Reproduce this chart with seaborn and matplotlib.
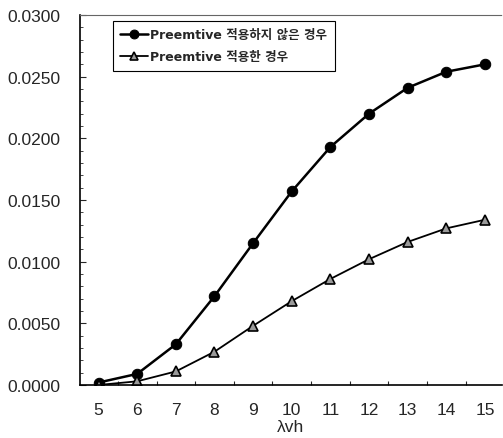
import matplotlib.pyplot as plt
import seaborn as sns
import pandas as pd
import numpy as np
from matplotlib.ticker import FixedLocator, MultipleLocator, FormatStrFormatter

lam = [5, 6, 7, 8, 9, 10, 11, 12, 13, 14, 15]
no_preempt = [0.0002, 0.0009, 0.0033, 0.0072, 0.0115, 0.0157, 0.0193, 0.0220, 0.0241, 0.0254, 0.0260]
with_preempt = [0.0000, 0.0003, 0.0011, 0.0027, 0.0048, 0.0068, 0.0086, 0.0102, 0.0116, 0.0127, 0.0134]
labels = ["Preemtive 적용하지 않은 경우", "Preemtive 적용한 경우"]

df = pd.DataFrame({"lam": lam, "a": no_preempt, "b": with_preempt})

sns.set_style("white")
plt.rcParams["font.family"] = ["Liberation Sans", "Noto Sans CJK KR", "DejaVu Sans"]

fig = plt.figure(figsize=(5.03, 4.39), dpi=100)
ax = fig.add_axes([80 / 503, 53 / 439, 1 - 80 / 503 - 0.002, (386 - 16) / 439])

sns.lineplot(x="lam", y="a", data=df, ax=ax, color="black", linewidth=1.8,
             marker="o", markersize=7.5, markeredgecolor="black", label=labels[0])
sns.lineplot(x="lam", y="b", data=df, ax=ax, color="black", linewidth=1.3,
             marker="^", markersize=7, markerfacecolor="#9a9a9a",
             markeredgecolor="black", markeredgewidth=1.2, label=labels[1])

ax.set_xlim(4.52, 15.44)
ax.set_ylim(0, 0.03)
ax.xaxis.set_major_locator(FixedLocator(lam))
ax.xaxis.set_minor_locator(FixedLocator(np.array(lam[:-1]) + 0.5))
ax.yaxis.set_major_locator(MultipleLocator(0.005))
ax.yaxis.set_minor_locator(MultipleLocator(0.001))
ax.yaxis.set_major_formatter(FormatStrFormatter("%.4f"))

ax.tick_params(axis="x", which="major", length=0, labelsize=12.5, pad=12)
ax.tick_params(axis="x", which="minor", direction="in", length=3, width=0.8)
ax.tick_params(axis="y", which="major", direction="in", length=4, width=0.8,
               labelsize=12.5, pad=14)
ax.tick_params(axis="y", which="minor", direction="in", length=2, width=0.6)
ax.tick_params(bottom=True, left=True, which="both")

for s in ["left", "bottom"]:
    ax.spines[s].set_color("black")
    ax.spines[s].set_linewidth(1.2)
ax.spines["top"].set_color("#666666")
ax.spines["top"].set_linewidth(0.8)
ax.spines["top"].set_linestyle((0, (1, 1)))
ax.spines["right"].set_visible(False)

ax.set_xlabel("λvh", fontsize=12.5, labelpad=2)
ax.set_ylabel("")

leg = ax.legend(loc="upper left", bbox_to_anchor=(0.078, 0.984), frameon=True,
                fancybox=False, edgecolor="black", framealpha=1, borderaxespad=0,
                prop={"family": ["DejaVu Sans", "Noto Sans CJK KR"], "size": 9, "weight": "bold"},
                handlelength=2.2, borderpad=0.6, labelspacing=0.7, handletextpad=0.2,
                markerscale=0.85)
leg.get_frame().set_linewidth(0.8)

fig.savefig("out.png", dpi=100)
